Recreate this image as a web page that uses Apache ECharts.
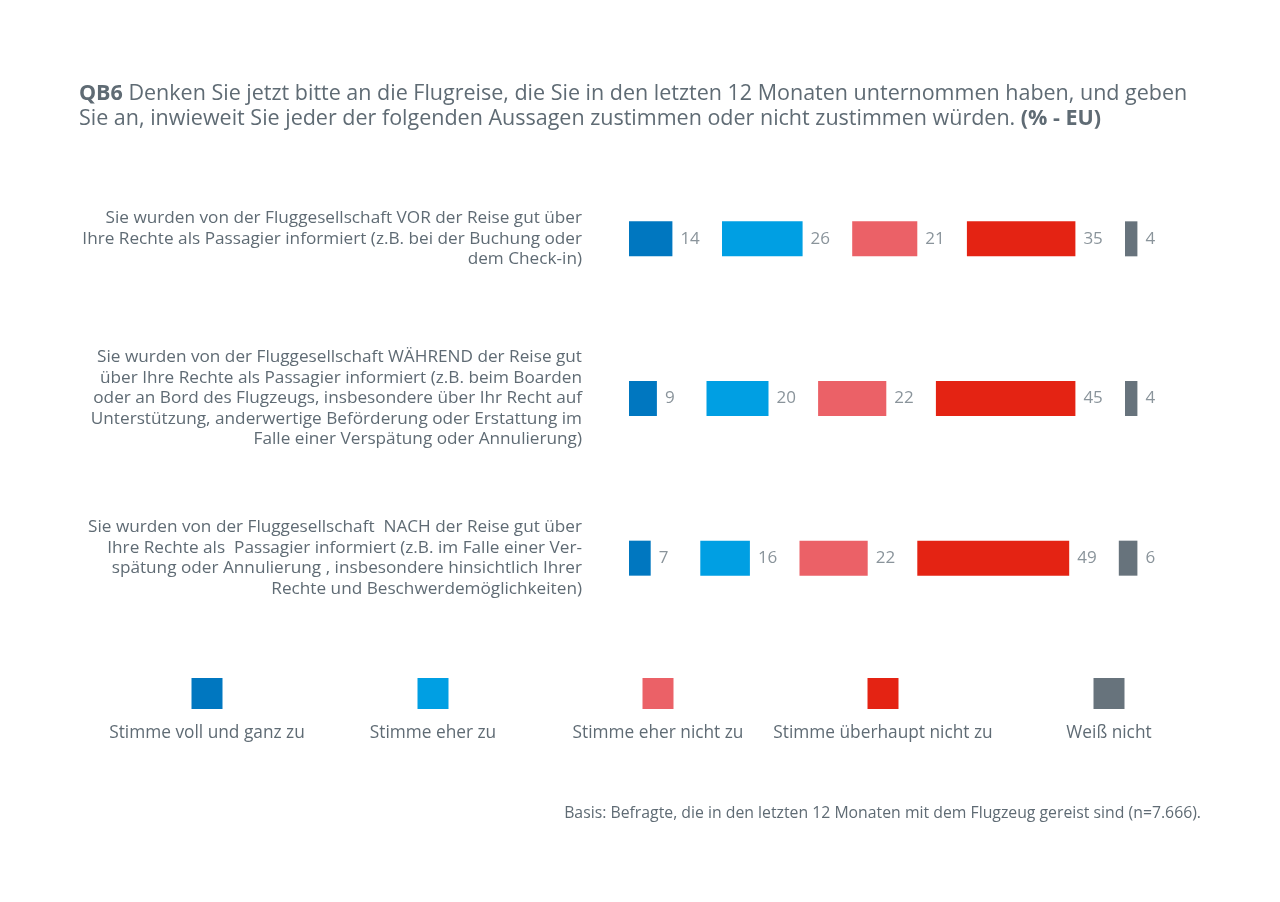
<!DOCTYPE html>
<html>
<head>
<meta charset="utf-8">
<script src="https://cdn.jsdelivr.net/npm/echarts@6/dist/echarts.min.js"></script>
<style>
html,body{margin:0;padding:0;background:#fff;}
#chart{width:1280px;height:902px;}
</style>
</head>
<body>
<div id="chart"></div>
<script>
// ---- data ----
const categories = [
  "Sie wurden von der Fluggesellschaft VOR der Reise gut über\nIhre Rechte als Passagier informiert (z.B. bei der Buchung oder\ndem Check-in)",
  "Sie wurden von der Fluggesellschaft WÄHREND der Reise gut\nüber Ihre Rechte als Passagier informiert (z.B. beim Boarden\noder an Bord des Flugzeugs, insbesondere über Ihr Recht auf\nUnterstützung, anderwertige Beförderung oder Erstattung im\nFalle einer Verspätung oder Annulierung)",
  "Sie wurden von der Fluggesellschaft  NACH der Reise gut über\nIhre Rechte als  Passagier informiert (z.B. im Falle einer Ver-\nspätung oder Annulierung , insbesondere hinsichtlich Ihrer\nRechte und Beschwerdemöglichkeiten)"
];
const seriesNames = ["Stimme voll und ganz zu", "Stimme eher zu", "Stimme eher nicht zu", "Stimme überhaupt nicht zu", "Weiß nicht"];
const vollZu = [14, 9, 7];
const eherZu = [26, 20, 16];
const eherNicht = [21, 22, 22];
const ueberhauptNicht = [35, 45, 49];
const weissNicht = [4, 4, 6];
const seriesColors = ["#0077c0", "#009fe3", "#eb6167", "#e42313", "#67737c"];
const titleText = "{b|QB6} Denken Sie jetzt bitte an die Flugreise, die Sie in den letzten 12 Monaten unternommen haben, und geben\nSie an, inwieweit Sie jeder der folgenden Aussagen zustimmen oder nicht zustimmen würden. {b|(% - EU)}";
const footnote = "Basis: Befragte, die in den letzten 12 Monaten mit dem Flugzeug gereist sind (n=7.666).";

// ---- chart ----
const GAP = 16;
const valueSets = [vollZu, eherZu, eherNicht, ueberhauptNicht, weissNicht];
const textColor = "#5f6b74";
const labelColor = "#8a949b";
const font = "'Open Sans', 'Noto Sans', sans-serif";

const series = [];
valueSets.forEach((vals, i) => {
  series.push({
    name: seriesNames[i],
    type: 'bar',
    stack: 'all',
    barWidth: 35,
    data: vals,
    itemStyle: { color: seriesColors[i] },
    label: {
      show: true, position: 'right', distance: 8,
      color: labelColor, fontSize: 17, fontFamily: font
    },
    emphasis: { disabled: true },
    silent: true
  });
  if (i < valueSets.length - 1) {
    series.push({
      name: 'gap' + i,
      type: 'bar',
      stack: 'all',
      barWidth: 35,
      data: categories.map(() => GAP),
      itemStyle: { color: 'rgba(0,0,0,0)' },
      label: { show: false },
      emphasis: { disabled: true },
      silent: true
    });
  }
});

const legendCenters = [207, 433, 658, 883, 1109];
const graphics = [];
seriesNames.forEach((n, i) => {
  graphics.push({
    type: 'rect',
    shape: { x: legendCenters[i] - 15.5, y: 678, width: 31, height: 31 },
    style: { fill: seriesColors[i] }
  });
  graphics.push({
    type: 'text',
    x: legendCenters[i], y: 733,
    style: {
      text: n, fill: textColor, fontSize: 17.3, fontFamily: font,
      align: 'center', verticalAlign: 'middle'
    }
  });
});
graphics.push({
  type: 'text',
  x: 1201, y: 813,
  style: {
    text: footnote, fill: textColor, fontSize: 15.8, fontFamily: font,
    align: 'right', verticalAlign: 'middle'
  }
});

const chart = echarts.init(document.getElementById('chart'));
chart.setOption({
  backgroundColor: '#fff',
  animation: false,
  title: {
    text: titleText,
    left: 79, top: 81, padding: 0,
    textStyle: {
      color: textColor, fontSize: 21.5, fontWeight: 'normal', fontFamily: font, lineHeight: 25,
      rich: { b: { fontWeight: 'bold', fontSize: 21.5, color: textColor, fontFamily: font, lineHeight: 25 } }
    }
  },
  grid: { left: 629, width: 620, top: 159, height: 479 },
  xAxis: { type: 'value', min: 0, max: 200, show: false },
  yAxis: {
    type: 'category', data: categories, inverse: true,
    axisLine: { show: false }, axisTick: { show: false }, splitLine: { show: false },
    axisLabel: {
      margin: 47, align: 'right', color: textColor, fontSize: 17.2,
      fontFamily: font, lineHeight: 20.5
    }
  },
  series: series,
  graphic: graphics
});
</script>
</body>
</html>
